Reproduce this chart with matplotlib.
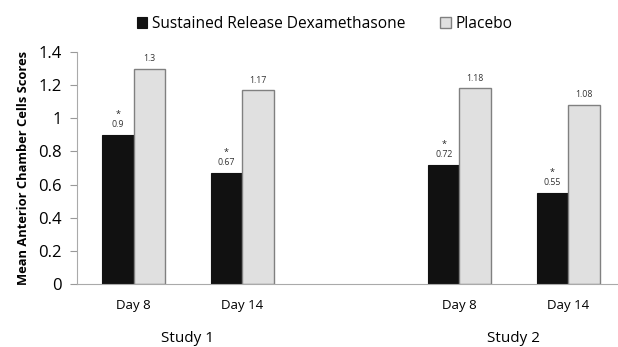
import numpy as np
import matplotlib
matplotlib.use("Agg")
import matplotlib.pyplot as plt

plt.rcParams["font.family"] = ["Open Sans", "DejaVu Sans"]

# data
days = ["Day 8", "Day 14", "Day 8", "Day 14"]
studies = ["Study 1", "Study 2"]
dex = [0.9, 0.67, 0.72, 0.55]
placebo = [1.3, 1.17, 1.18, 1.08]
positions = [0, 1, 3, 4]

fig = plt.figure(figsize=(6.18, 3.47), dpi=100)
ax = fig.add_axes([0.1246, 0.1816, 0.8738, 0.6685])

w = 0.29
x = np.array(positions, dtype=float)
b1 = ax.bar(x - w / 2, dex, w, color="#111111", edgecolor="#111111", linewidth=0.8,
            label="Sustained Release Dexamethasone")
b2 = ax.bar(x + w / 2, placebo, w, color="#e0e0e0", edgecolor="#808080", linewidth=1.0,
            label="Placebo")

for xi, v in zip(x - w / 2, dex):
    ax.annotate(f"{v:g}", (xi, v), xytext=(0, 4), textcoords="offset points",
                ha="center", va="bottom", fontsize=6.3, color="#333333")
    ax.annotate("*", (xi, v), xytext=(0, 11.5), textcoords="offset points",
                ha="center", va="bottom", fontsize=6.5, color="#222222")
for xi, v in zip(x + w / 2, placebo):
    ax.annotate(f"{v:g}", (xi, v), xytext=(0, 4), textcoords="offset points",
                ha="center", va="bottom", fontsize=6.3, color="#333333")

ax.set_xlim(-0.52, 4.45)
ax.set_ylim(0, 1.4)
ax.set_yticks(np.arange(0, 1.41, 0.2))
ax.set_yticklabels(["0", "0.2", "0.4", "0.6", "0.8", "1", "1.2", "1.4"], fontsize=12)
ax.set_xticks(x)
ax.set_xticklabels(days, fontsize=9.5)
ax.tick_params(axis="x", length=0, pad=11)
ax.tick_params(axis="y", length=5, color="#999999", pad=6)

for s in ["top", "right"]:
    ax.spines[s].set_visible(False)
ax.spines["left"].set_color("#aaaaaa")
ax.spines["bottom"].set_color("#aaaaaa")

for i, name in enumerate(studies):
    xc = (x[2 * i] + x[2 * i + 1]) / 2
    ax.text(xc, -0.33, name, ha="center", va="center", fontsize=11)

ax.set_ylabel("Mean Anterior Chamber Cells Scores", fontsize=9.3, fontweight="bold", labelpad=6)

fig.legend(handles=[b1, b2], loc="upper center", bbox_to_anchor=(0.525, 0.995), ncol=2,
           frameon=False, fontsize=11.2, handlelength=0.7, handleheight=0.7,
           handletextpad=0.3, columnspacing=2.2)

fig.savefig("out.png", dpi=100)
